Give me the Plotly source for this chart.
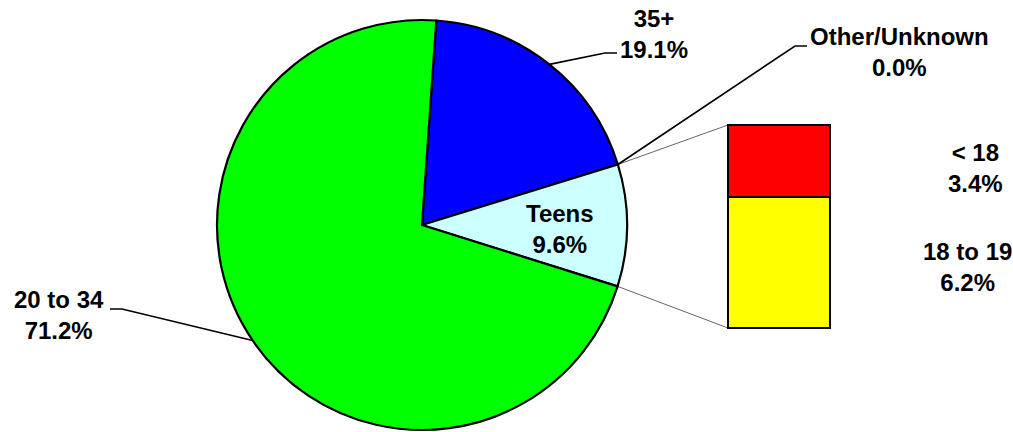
import math
import plotly.graph_objects as go

# ---- data ----
pie_labels = ["35+", "Other/Unknown", "Teens", "20 to 34"]
pie_values = [19.1, 0.0, 9.6, 71.2]
pie_colors = ["#0000FF", "#FFFFFF", "#CCFFFF", "#00FF00"]

bar_labels = ["18 to 19", "< 18"]
bar_values = [6.2, 3.4]
bar_colors = ["#FFFF00", "#FF0000"]

# ---- geometry (pixels) ----
W, H = 1013, 432
cx, cy, R = 422, 225, 205
rotation = 4
bar_left, bar_right, bar_top, bar_bottom = 728, 830, 125, 328
pad = 6

def px(x):
    return x / W

def py(y):
    return 1 - y / H

total = sum(pie_values)
starts, ends = [], []
a = rotation
for v in pie_values:
    starts.append(a)
    a += v / total * 360
    ends.append(a)

def edge(angle, r=R):
    t = math.radians(angle)
    return cx + r * math.sin(t), cy - r * math.cos(t)

fig = go.Figure()

fig.add_trace(go.Pie(
    labels=pie_labels, values=pie_values, sort=False, direction="clockwise",
    rotation=rotation, textinfo="none", hoverinfo="skip", showlegend=False,
    marker=dict(colors=pie_colors, line=dict(color="black", width=2.2)),
    domain=dict(x=[px(cx - R), px(cx + R)], y=[py(cy + R), py(cy - R)]),
))

for lab, val, col in zip(bar_labels, bar_values, bar_colors):
    fig.add_trace(go.Bar(
        x=[0], y=[val], name=lab, width=1, showlegend=False, hoverinfo="skip",
        marker=dict(color=col, line=dict(color="black", width=2.5)),
        xaxis="x", yaxis="y",
    ))

shapes = []
teens_i = pie_labels.index("Teens")
p_top = edge(starts[teens_i])
p_bot = edge(ends[teens_i])
for (x0, y0), (x1, y1) in [(p_top, (bar_left, bar_top)), (p_bot, (bar_left, bar_bottom))]:
    shapes.append(dict(type="line", xref="paper", yref="paper", layer="below",
                       x0=px(x0), y0=py(y0), x1=px(x1), y1=py(y1),
                       line=dict(color="#666666", width=1)))

def leader(points):
    path = "M " + " L ".join(f"{px(x)},{py(y)}" for x, y in points)
    return dict(type="path", xref="paper", yref="paper", path=path,
                line=dict(color="black", width=1.6))

i35 = pie_labels.index("35+")
iother = pie_labels.index("Other/Unknown")
i2034 = pie_labels.index("20 to 34")
shapes.append(leader([edge((starts[i35] + ends[i35]) / 2), (605, 53), (617, 53)]))
shapes.append(leader([edge((starts[iother] + ends[iother]) / 2), (795, 46), (807, 46)]))
shapes.append(leader([edge((starts[i2034] + ends[i2034]) / 2), (122, 309), (110, 309)]))

font = dict(family="Arial, Liberation Sans, sans-serif", size=24, color="black")
ann_pos = {
    "35+": (654, 34),
    "Other/Unknown": (899, 52),
    "Teens": (560, 229),
    "20 to 34": (59, 315),
    "< 18": (975, 168),
    "18 to 19": (967, 267),
}
annotations = []
for lab, val in list(zip(pie_labels, pie_values)) + list(zip(bar_labels, bar_values)):
    x, y = ann_pos[lab]
    annotations.append(dict(
        x=px(x), y=py(y), xref="paper", yref="paper", showarrow=False,
        xanchor="center", yanchor="middle", align="center",
        text=f"<b>{lab}<br>{val:.1f}%</b>", font=font))

btotal = sum(bar_values)
kx = 1.0 / (bar_right - bar_left)
ky = btotal / (bar_bottom - bar_top)
fig.update_layout(
    width=W, height=H, margin=dict(l=0, r=0, t=0, b=0),
    paper_bgcolor="white", plot_bgcolor="rgba(0,0,0,0)",
    barmode="stack", bargap=0,
    xaxis=dict(domain=[px(bar_left - pad), px(bar_right + pad)],
               range=[-0.5 - pad * kx, 0.5 + pad * kx], visible=False, fixedrange=True),
    yaxis=dict(domain=[py(bar_bottom + pad), py(bar_top - pad)],
               range=[-pad * ky, btotal + pad * ky], visible=False, fixedrange=True),
    shapes=shapes, annotations=annotations,
)

fig.write_html("out.html", config={"displayModeBar": False},
               post_script="document.body.style.margin='0';document.body.style.overflow='hidden';")
